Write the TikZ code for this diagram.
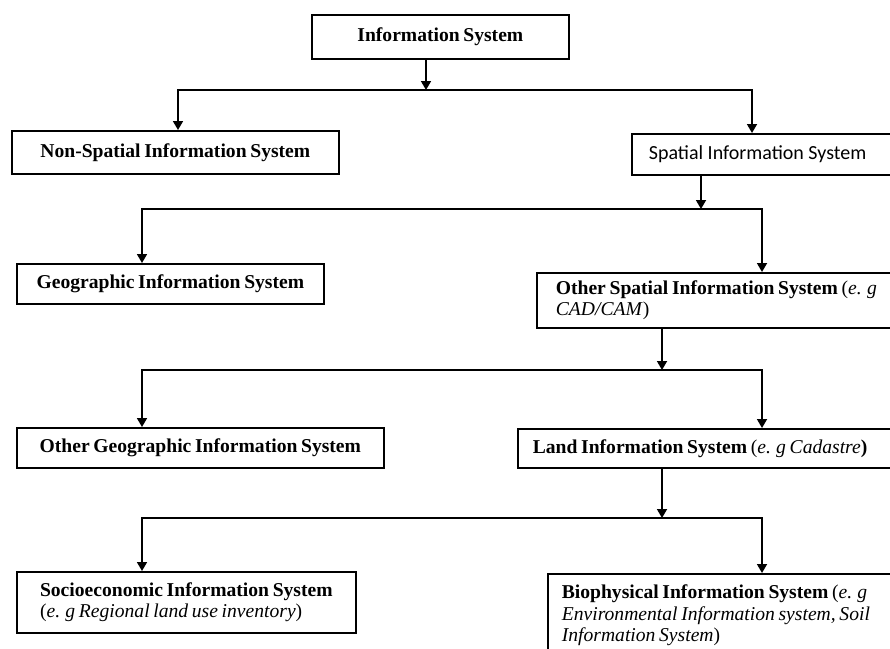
\documentclass[tikz,border=0pt]{standalone}
\usepackage{fontspec}
\setmainfont{Liberation Serif}[WordSpace=0.75]
\newfontfamily\sansf{Carlito}
\usetikzlibrary{arrows.meta}
\begin{document}
\begin{tikzpicture}[x=1pt,y=-1pt,
  box/.style={draw, line width=1.7pt, anchor=north west, inner ysep=0pt, inner xsep=2pt,
    font=\fontsize{19.6}{21.5}\selectfont\bfseries},
  wide/.style={text width=#1, align=flush left},
  arr/.style={line width=1.7pt, -{Triangle[width=10pt,length=9pt]}}]
\useasboundingbox (0,0) rectangle (890,648);
\clip (0,0) rectangle (890,648);
% boxes
\node[box, minimum width=257pt, minimum height=44pt] (top) at (311,14) {Information System};
\node[box, minimum width=327pt, minimum height=43pt] (nonsp) at (11,130) {Non-Spatial Information System};
\node[box, wide=400pt, inner xsep=17pt, minimum height=41pt, font=\sansf\mdseries\fontsize{20}{24}\selectfont] (sp) at (631,133) {Spatial Information System};
\node[box, minimum width=307pt, minimum height=40pt] (geo) at (16,263) {Geographic Information System};
\node[box, wide=400pt, inner xsep=19pt, minimum height=55pt] (osp) at (536,272) {Other Spatial Information System \textnormal{(\textit{e. g}}\\\textnormal{\textit{CAD/CAM})}};
\node[box, minimum width=367pt, minimum height=40pt] (ogeo) at (16,427) {Other Geographic Information System};
\node[box, wide=420pt, inner xsep=15pt, minimum height=39pt] (land) at (517,428) {Land Information System \textnormal{(\textit{e. g Cadastre}})};
\node[box, align=left, minimum width=339pt, minimum height=61pt] (socio) at (16,571) {Socioeconomic Information System\\\textnormal{(\textit{e. g Regional land use inventory})}};
\node[box, wide=400pt, inner xsep=14pt, minimum height=83pt] (bio) at (547,573) {Biophysical Information System \textnormal{(\textit{e. g}}\\\textnormal{\textit{Environmental Information system, Soil}}\\\textnormal{\textit{Information System})}};
% junction points
\coordinate (a0) at (426,90);
\coordinate (l1) at (178,90);
\coordinate (r1) at (752,90);
\coordinate (a1) at (701,209);
\coordinate (l2) at (142,209);
\coordinate (r2) at (762,209);
\coordinate (a2) at (662,370);
\coordinate (l3) at (142,370);
\coordinate (r3) at (762,370);
\coordinate (a3) at (662,518);
\coordinate (l4) at (142,518);
\coordinate (r4) at (762,518);
% connectors
\draw[arr] (top.south -| a0) -- (a0);
\draw[arr] (r1) -- (l1) -- (nonsp.north -| l1);
\draw[arr] (l1) -- (r1) -- (sp.north -| r1);
\draw[arr] (sp.south -| a1) -- (a1);
\draw[arr] (r2) -- (l2) -- (geo.north -| l2);
\draw[arr] (l2) -- (r2) -- (osp.north -| r2);
\draw[arr] (osp.south -| a2) -- (a2);
\draw[arr] (r3) -- (l3) -- (ogeo.north -| l3);
\draw[arr] (l3) -- (r3) -- (land.north -| r3);
\draw[arr] (land.south -| a3) -- (a3);
\draw[arr] (r4) -- (l4) -- (socio.north -| l4);
\draw[arr] (l4) -- (r4) -- (bio.north -| r4);
\end{tikzpicture}
\end{document}
